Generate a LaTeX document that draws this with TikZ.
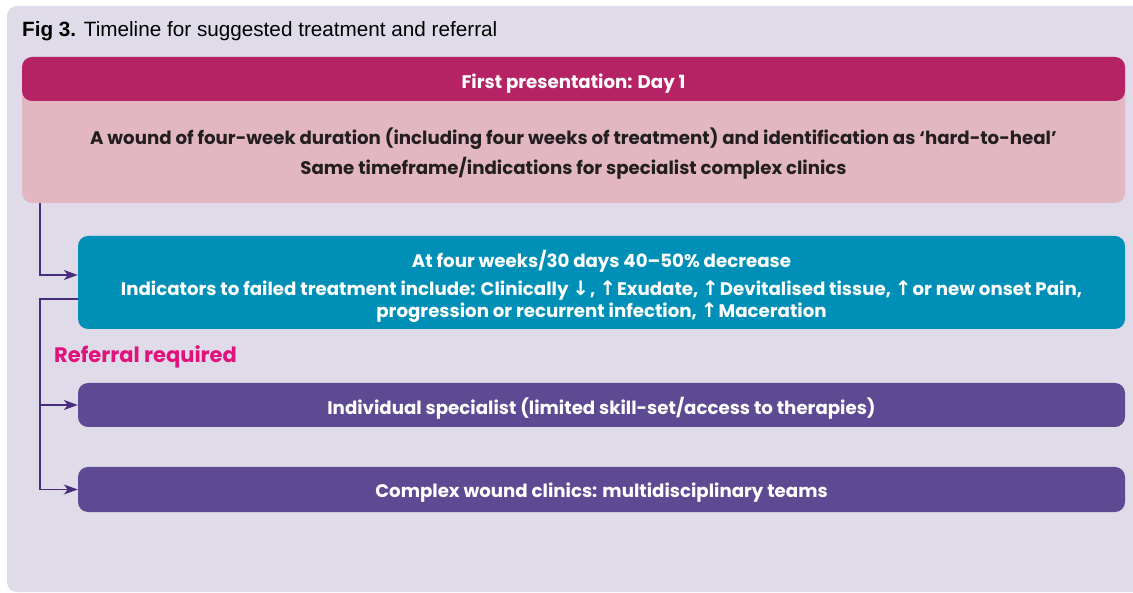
\documentclass[tikz,border=0pt]{standalone}
\usepackage{fontspec}
\setmainfont{Poppins}
\newfontfamily\titlefont{Liberation Sans}
\newfontfamily\arrowfont{DejaVu Sans}
\usetikzlibrary{arrows.meta,calc}
\definecolor{panelbg}{HTML}{DFDBE9}
\definecolor{headmag}{HTML}{B52364}
\definecolor{pinkbg}{HTML}{E3B7C2}
\definecolor{tealbg}{HTML}{0090B7}
\definecolor{purplebg}{HTML}{5E4A93}
\definecolor{refmag}{HTML}{E2127D}
\definecolor{connc}{HTML}{4A2C7C}
\definecolor{darktext}{HTML}{231F20}
\newcommand{\upar}{\smash{\arrowfont\fontsize{20pt}{20pt}\selectfont ↑}\kern1pt}
\newcommand{\dnar}{\smash{\arrowfont\fontsize{20pt}{20pt}\selectfont ↓}\kern1pt}
\begin{document}
\begin{tikzpicture}[x=1pt,y=-1pt,
  box/.style={rounded corners=10pt, minimum width=1047pt, inner sep=0pt, draw=none},
  wtext/.style={text=white, font=\fontsize{18.2pt}{22pt}\selectfont\bfseries, align=center, inner sep=0pt},
  dtext/.style={text=darktext, font=\fontsize{18.2pt}{22pt}\selectfont\bfseries, align=center, inner sep=0pt},
  conn/.style={draw=connc, line width=1.4pt},
  tip/.style={-{Stealth[length=14pt,width=10pt,inset=4pt]}}
]
\useasboundingbox (0,0) rectangle (1133,593);
\fill[white] (0,0) rectangle (1133,593);
\fill[panelbg, rounded corners=10pt] (7,6) rectangle (1150,592);
% title
\node[anchor=west, inner sep=0pt, font=\titlefont\fontsize{20.7pt}{22pt}\selectfont] (title) at (22,31) {\textbf{Fig 3.} Timeline for suggested treatment and referral};
% first box
\node[box, fill=pinkbg, minimum width=1103pt, minimum height=146pt] (pinkbox) at (573.5,130) {};
\node[box, fill=headmag, minimum width=1103pt, minimum height=44pt] (head) at (573.5,79) {};
\node[wtext] (headtext) at ($(head.center)+(0,4.5)$) {First presentation: Day 1};
\node[dtext] (pinktext) at (573.5,153.5) {A wound of four-week duration (including four weeks of treatment) and identification as ‘hard-to-heal’\\[7pt]Same timeframe/indications for specialist complex clinics};
% teal box
\node[box, fill=tealbg, minimum height=93pt] (teal) at (601.5,282.5) {};
\node[wtext] (tealtext) at (601.5,286) {At four weeks/30 days 40–50\% decrease\\[6pt]
Indicators to failed treatment include: Clinically \dnar, \upar Exudate, \upar Devitalised tissue, \upar or new onset Pain,\\
progression or recurrent infection, \upar Maceration};
% referral
\node[anchor=west, inner sep=0pt, text=refmag, font=\fontsize{21pt}{22pt}\selectfont\bfseries] (referral) at (54,357) {Referral required};
% purple boxes
\node[box, fill=purplebg, minimum height=44pt] (p1) at (601.5,405) {};
\node[wtext] (p1text) at ($(p1.center)+(0,3)$) {Individual specialist (limited skill-set/access to therapies)};
\node[box, fill=purplebg, minimum height=45pt] (p2) at (601.5,489.5) {};
\node[wtext] (p2text) at ($(p2.center)+(0,3.5)$) {Complex wound clinics: multidisciplinary teams};
% connectors
\coordinate (spine) at (40,0);
\draw[conn, tip] (pinkbox.south -| spine) |- ($(teal.west)+(0,-7.5)$);
\draw[conn, tip] ($(teal.west)+(0,16.5)$) -| (spine |- p2.west) -- (p2.west);
\draw[conn, tip] (spine |- p1.west) -- (p1.west);
\end{tikzpicture}
\end{document}
